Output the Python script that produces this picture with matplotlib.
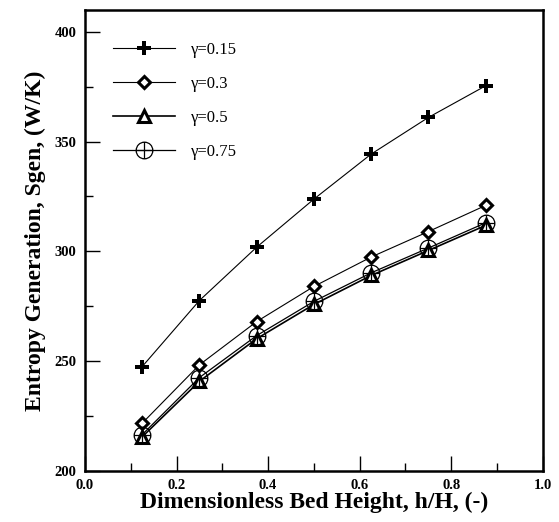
import matplotlib
matplotlib.use("Agg")
import matplotlib.pyplot as plt
from matplotlib.path import Path
from matplotlib.ticker import MultipleLocator

plt.rcParams.update({
    "font.family": ["Liberation Serif", "DejaVu Serif"],
    "axes.linewidth": 1.8,
})

# ── 数据 ──
h_H = [0.125, 0.25, 0.375, 0.5, 0.625, 0.75, 0.875]
sgen_015 = [247.5, 277.6, 301.9, 323.8, 344.3, 361.0, 375.4]
sgen_03 = [221.7, 248.3, 268.0, 284.0, 297.4, 309.0, 320.9]
sgen_05 = [215.5, 240.8, 260.2, 275.8, 289.0, 300.4, 311.8]
sgen_075 = [216.5, 242.5, 261.6, 277.2, 290.2, 301.5, 313.0]
labels = ["γ=0.15", "γ=0.3", "γ=0.5", "γ=0.75"]

# 带十字的圆形标记
circ = Path.unit_circle()
cross = Path([(-1, 0), (1, 0), (0, -1), (0, 1)],
             [Path.MOVETO, Path.LINETO, Path.MOVETO, Path.LINETO])
oplus = Path.make_compound_path(circ, cross)

fig = plt.figure(figsize=(5.59, 5.22), dpi=100)
ax = fig.add_axes([0.152, 0.098, 0.819, 0.883])

ax.plot(h_H, sgen_015, "-", color="black", lw=0.8, marker="P",
        markersize=10, markeredgewidth=0, label=labels[0])
ax.plot(h_H, sgen_03, "-", color="black", lw=0.8, marker="D",
        markersize=6.5, markerfacecolor="white", markeredgewidth=2.2,
        label=labels[1])
ax.plot(h_H, sgen_05, "-", color="black", lw=1.2, marker="^",
        markersize=8, markerfacecolor="white", markeredgewidth=2.2,
        label=labels[2])
ax.plot(h_H, sgen_075, "-", color="black", lw=0.9, marker=oplus,
        markersize=12, markerfacecolor="none", markeredgewidth=0.9,
        label=labels[3])

ax.set_xlim(0.0, 1.0)
ax.set_ylim(200, 410)
ax.xaxis.set_minor_locator(MultipleLocator(0.1))
ax.yaxis.set_minor_locator(MultipleLocator(25))
ax.set_xticks([0.0, 0.2, 0.4, 0.6, 0.8, 1.0])
ax.set_xticklabels(["0.0", "0.2", "0.4", "0.6", "0.8", "1.0"])
ax.set_yticks([200, 250, 300, 350, 400])

ax.tick_params(which="major", direction="in", length=11, width=1.0,
               top=False, right=False, labelsize=10.5, pad=6)
ax.tick_params(which="minor", direction="in", length=5.5, width=1.0,
               top=False, right=False)
for t in ax.get_xticklabels() + ax.get_yticklabels():
    t.set_fontweight("bold")

ax.set_xlabel("Dimensionless Bed Height, h/H, (-)", fontsize=17,
              fontweight="bold", labelpad=0)
ax.set_ylabel("Entropy Generation, Sgen, (W/K)", fontsize=17,
              fontweight="bold", labelpad=6)

ax.legend(loc="upper left", bbox_to_anchor=(0.061, 0.930), frameon=False,
          fontsize=12, handlelength=3.7, handletextpad=1.0,
          labelspacing=1.08, borderpad=0, borderaxespad=0)

fig.savefig("out.png", dpi=100)
